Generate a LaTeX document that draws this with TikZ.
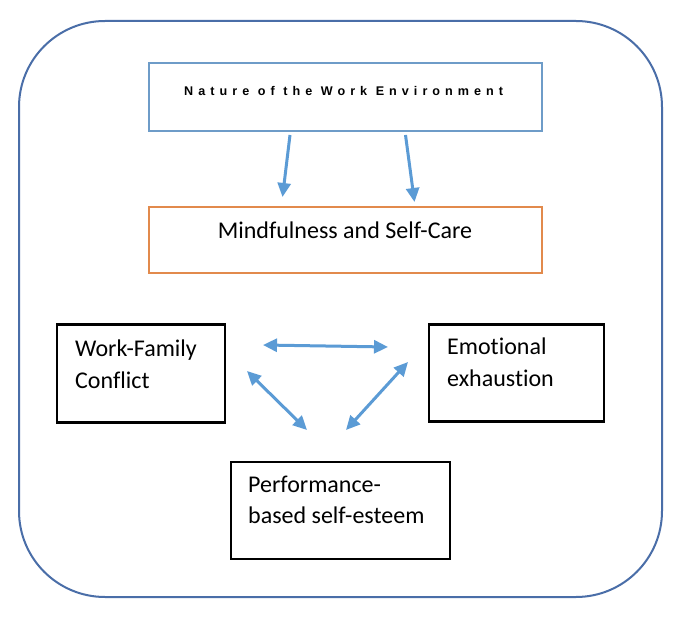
\documentclass[tikz,border=0pt]{standalone}
\usepackage{fontspec}
\setmainfont{Carlito}[Ligatures={NoCommon}]
\newfontfamily\headfont[LetterSpace=40]{Liberation Sans Bold}
\usetikzlibrary{arrows.meta}
\definecolor{outerblue}{HTML}{4A6EA8}
\definecolor{topblue}{HTML}{6E9CC8}
\definecolor{arrowblue}{HTML}{5B9BD5}
\definecolor{boxorange}{HTML}{E28A4C}
\tikzset{
  box/.style={draw, line width=2.5pt, inner sep=0pt},
  lbl/.style={anchor=base west, inner sep=0pt, font=\fontsize{24}{32}\selectfont},
  conn/.style={draw=arrowblue, line width=3pt, -{Triangle[length=14pt,width=13pt]}},
  dconn/.style={draw=arrowblue, line width=3pt, {Triangle[length=14pt,width=13pt]}-{Triangle[length=14pt,width=13pt]}}
}
\begin{document}
\begin{tikzpicture}[x=1pt,y=-1pt]
\useasboundingbox (0,0) rectangle (686,628);
\fill[white] (0,0) rectangle (686,628);
% outer frame
\draw[outerblue, line width=2pt, rounded corners=86pt] (19,21) rectangle (662,597);
% boxes
\node[box, draw=topblue, line width=2pt, minimum width=393pt, minimum height=68pt] (env) at (345.5,97) {};
\node[box, draw=boxorange, line width=2pt, minimum width=393pt, minimum height=66pt] (mind) at (345.5,240) {};
\node[box, minimum width=168pt, minimum height=98pt] (wf) at (141,373.5) {};
\node[box, minimum width=175pt, minimum height=97pt] (emo) at (516.5,373) {};
\node[box, minimum width=219pt, minimum height=97pt] (perf) at (340.5,510.5) {};
% texts
\node[anchor=base west, inner sep=0pt, font=\headfont\fontsize{12.6}{14}\selectfont] (envt) at (184,96) {Nature of the Work Environment};
\node[anchor=base, inner sep=0pt, font=\fontsize{24}{32}\selectfont] (mindt) at (345,239) {Mindfulness and Self-Care};
\node[lbl] (wf1) at (75,357) {Work-Family};
\node[lbl] (wf2) at (75,389) {Conflict};
\node[lbl] (emo1) at (447,355) {Emotional};
\node[lbl] (emo2) at (447,387) {exhaustion};
\node[lbl] (perf1) at (248,493) {Performance-};
\node[lbl] (perf2) at (248,523) {based self-esteem};
% connector end points
\coordinate (a1s) at (290,135);
\coordinate (a1e) at (282.5,197);
\coordinate (a2s) at (405.5,135);
\coordinate (a2e) at (414.5,202);
\coordinate (h1) at (263,345);
\coordinate (h2) at (388,347);
\coordinate (l1) at (247,371);
\coordinate (l2) at (307,430);
\coordinate (r1) at (408,362);
\coordinate (r2) at (346,430);
\draw[conn] (a1s) -- (a1e);
\draw[conn] (a2s) -- (a2e);
\draw[dconn] (h1) -- (h2);
\draw[dconn] (l1) -- (l2);
\draw[dconn] (r1) -- (r2);
\end{tikzpicture}
\end{document}
